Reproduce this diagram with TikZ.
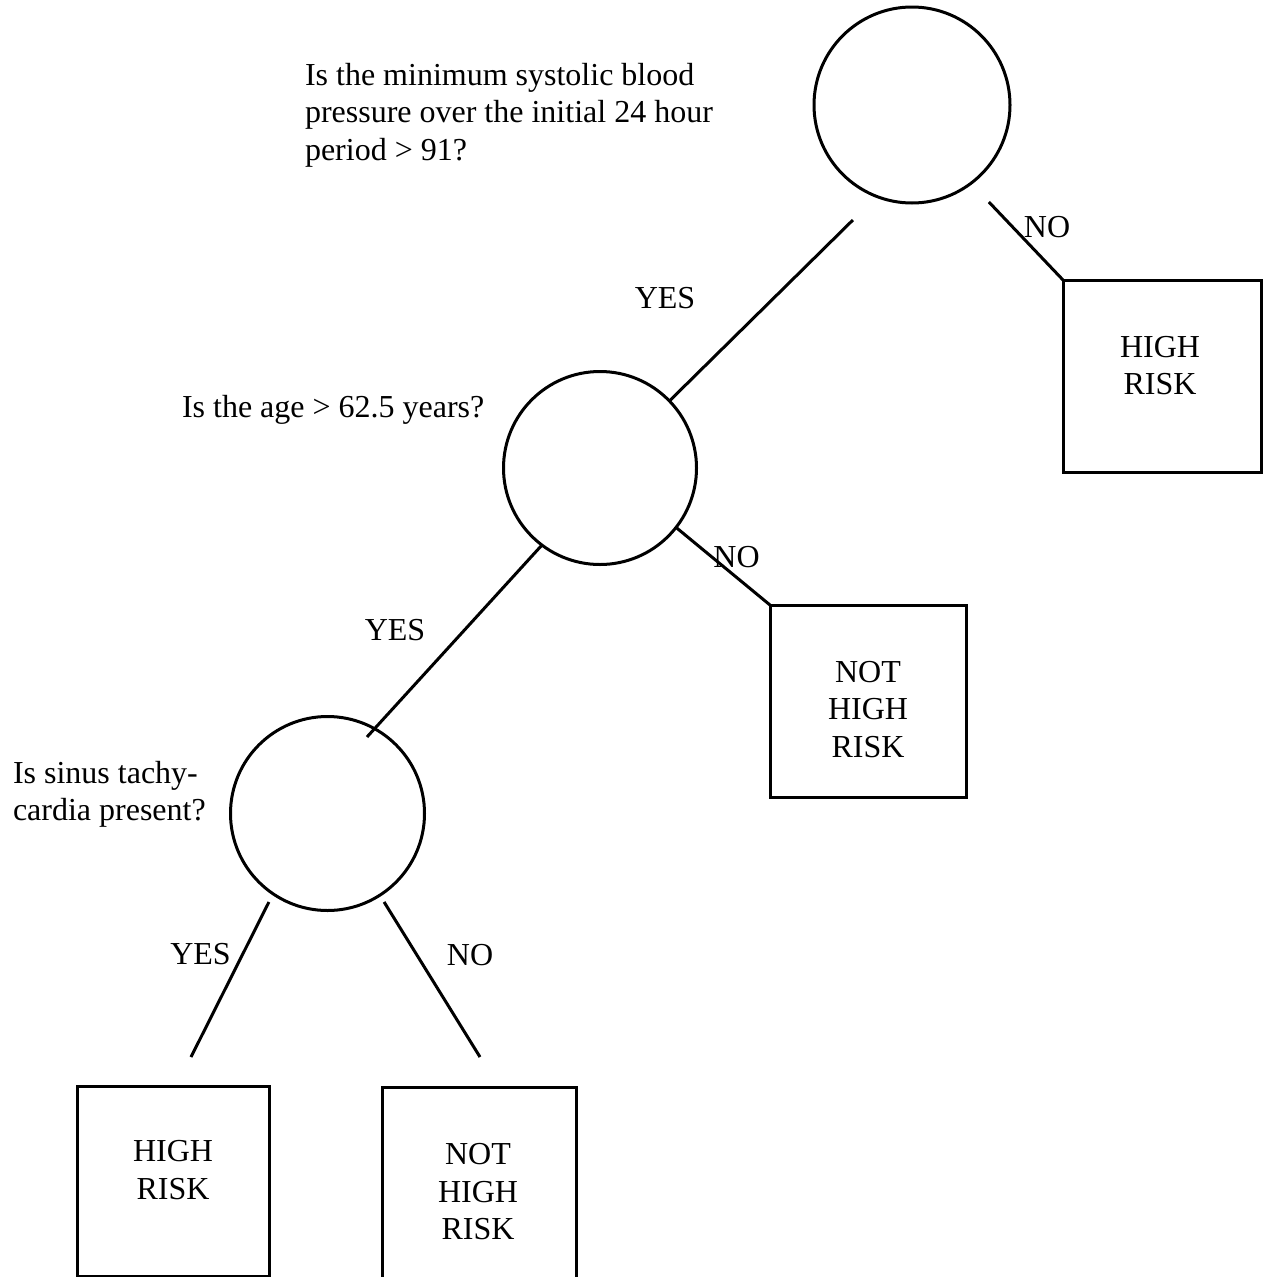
\documentclass[tikz,border=0pt]{standalone}
\usepackage{fontspec}
\setmainfont{Liberation Serif}
\usetikzlibrary{calc}
\begin{document}
\begin{tikzpicture}[x=1pt,y=1pt,
  ln/.style={line width=3pt},
  decision/.style={circle,draw,line width=3pt,inner sep=0pt,outer sep=0pt},
  leafbox/.style={rectangle,draw,line width=3pt,inner sep=0pt,outer sep=0pt},
  txt/.style={font=\fontsize{32}{37.5}\selectfont,inner sep=0pt,outer sep=0pt},
  lbl/.style={font=\fontsize{32}{37.5}\selectfont,inner sep=0pt,outer sep=0pt}]
\path[use as bounding box] (0,0) rectangle (1268,-1277);
\clip (0,0) rectangle (1268,-1277);

% decision circles
\node[decision,minimum size=196pt] (c1) at (912,-105) {};
\node[decision,minimum size=193pt] (c2) at (600,-468) {};
\node[decision,minimum size=194pt] (c3) at (327.5,-813.5) {};

% leaf boxes
\node[leafbox,minimum width=198pt,minimum height=192pt] (b1) at (1162,-376) {};
\node[leafbox,minimum width=196pt,minimum height=192pt] (b2) at (868,-701) {};
\node[leafbox,minimum width=192pt,minimum height=190pt] (b3) at (173,-1181) {};
\node[leafbox,minimum width=194pt,minimum height=210pt] (b4) at (479,-1192) {};

% leaf texts
\node[txt,align=center] (t1) at (1160,-365.5) {HIGH\\RISK};
\node[txt,align=center] (t2) at (868,-709.5) {NOT\\HIGH\\RISK};
\node[txt,align=center] (t3) at (173,-1170) {HIGH\\RISK};
\node[txt,align=center] (t4) at (478,-1192) {NOT\\HIGH\\RISK};

% questions
\node[txt,align=left,anchor=north west] (q1) at (305,-63.1)
  {Is the minimum systolic blood\\pressure over the initial 24 hour\\period > 91?};
\node[txt,anchor=base west] (q2) at (182,-417) {Is the age > 62.5 years?};
\node[txt,align=left,anchor=north west] (q3) at (13,-761.1)
  {Is sinus tachy-\\cardia present?};

% connectors
\draw[ln] ([shift={(242.8:129.3pt)}]c1.center) -- (c2.44);
\draw[ln] ([shift={(308.4:123.8pt)}]c1.center) -- (b1.north west);
\draw[ln] (c2.322) -- (b2.north west);
\draw[ln] (c2.233) -- ([shift={(62.7:86.1pt)}]c3.center);
\draw[ln] ([shift={(236.5:106.1pt)}]c3.center) -- ([shift={(18pt,29pt)}]b3.north);
\draw[ln] ([shift={(302.6:105pt)}]c3.center) -- ([shift={(1pt,30pt)}]b4.north);

% branch labels
\node[lbl] (n1) at (1047,-227.5) {NO};
\node[lbl] (y1) at (665,-298) {YES};
\node[lbl] (n2) at (736.5,-557.5) {NO};
\node[lbl] (y2) at (395,-630) {YES};
\node[lbl] (y3) at (200.5,-954) {YES};
\node[lbl] (n3) at (470,-955) {NO};
\end{tikzpicture}
\end{document}
